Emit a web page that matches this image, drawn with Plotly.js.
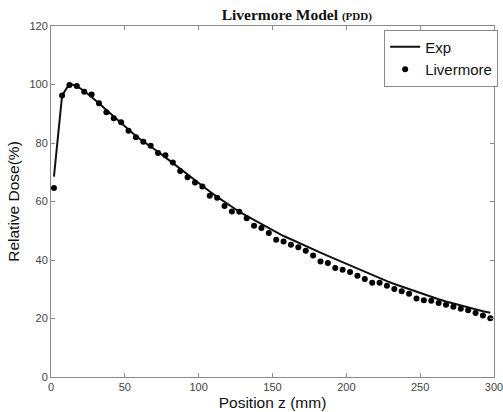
<!DOCTYPE html>
<html>
<head>
<meta charset="utf-8">
<script src="https://cdn.plot.ly/plotly-3.0.1.min.js"></script>
<style>html,body{margin:0;padding:0;background:#fff;}#chart{width:503px;height:412px;}</style>
</head>
<body>
<div id="chart"></div>
<script>
// Exp (measured) curve
const expZ = [2, 7.5, 12.5, 17.5, 22.5, 27.5, 32.5, 37.5, 42.5, 47.5, 52.5, 57.5, 62.5, 67.5, 72.5, 77.5, 82.5, 87.5, 92.5, 97.5, 102.5, 107.5, 112.5, 117.5, 122.5, 127.5, 132.5, 137.5, 142.5, 147.5, 152.5, 157.5, 162.5, 167.5, 172.5, 177.5, 182.5, 187.5, 192.5, 197.5, 202.5, 207.5, 212.5, 217.5, 222.5, 227.5, 232.5, 237.5, 242.5, 247.5, 252.5, 257.5, 262.5, 267.5, 272.5, 277.5, 282.5, 287.5, 292.5, 297.5];
const expDose = [68.5, 96.2, 100.3, 99.4, 97.8, 95.8, 93.6, 91.3, 89.0, 86.8, 84.6, 82.4, 80.5, 78.9, 77.0, 75.1, 73.1, 71.1, 69.1, 67.2, 65.3, 63.4, 61.6, 59.8, 58.0, 56.5, 55.1, 53.7, 52.2, 50.8, 49.4, 48.2, 47.1, 45.9, 44.7, 43.6, 42.5, 41.4, 40.3, 39.2, 38.1, 37.0, 35.9, 34.8, 33.8, 32.8, 31.8, 30.9, 30.0, 29.1, 28.2, 27.4, 26.6, 25.8, 25.1, 24.4, 23.7, 23.1, 22.5, 22.0];
// Livermore model points
const livZ = [2, 7.5, 12.5, 17.5, 22.5, 27.5, 32.5, 37.5, 42.5, 47.5, 52.5, 57.5, 62.5, 67.5, 72.5, 77.5, 82.5, 87.5, 92.5, 97.5, 102.5, 107.5, 112.5, 117.5, 122.5, 127.5, 132.5, 137.5, 142.5, 147.5, 152.5, 157.5, 162.5, 167.5, 172.5, 177.5, 182.5, 187.5, 192.5, 197.5, 202.5, 207.5, 212.5, 217.5, 222.5, 227.5, 232.5, 237.5, 242.5, 247.5, 252.5, 257.5, 262.5, 267.5, 272.5, 277.5, 282.5, 287.5, 292.5, 297.5];
const livDose = [64.6, 96.2, 99.8, 99.5, 97.5, 96.6, 93.6, 90.5, 88.5, 87.1, 84.2, 82.0, 80.4, 79.1, 76.6, 75.8, 73.3, 70.4, 68.3, 66.5, 65.1, 62.0, 61.3, 58.5, 56.6, 56.5, 54.3, 51.7, 50.9, 49.2, 46.9, 46.3, 45.2, 44.4, 43.2, 41.5, 39.5, 39.0, 37.3, 36.7, 35.9, 34.6, 33.5, 32.2, 32.2, 31.2, 30.1, 29.3, 28.5, 26.8, 26.2, 26.1, 25.3, 24.7, 24.0, 23.3, 22.8, 21.9, 21.0, 20.1];
const xTicks = [0, 50, 100, 150, 200, 250, 300];
const yTicks = [0, 20, 40, 60, 80, 100, 120];

const axisCommon = {
  showgrid: false, zeroline: false, showline: true, linecolor: '#8a8a8a', linewidth: 1,
  mirror: 'ticks', ticks: 'inside', ticklen: 4, tickcolor: '#8a8a8a', tickwidth: 1,
  tickfont: {family: 'Liberation Sans, Arial, sans-serif', size: 11, color: '#444'},
  tickmode: 'array', ticklabeloverflow: 'allow'
};

const data = [
  {x: expZ, y: expDose, name: 'Exp', mode: 'lines', type: 'scatter',
   line: {color: '#111', width: 2}},
  {x: livZ, y: livDose, name: 'Livermore', mode: 'markers', type: 'scatter',
   marker: {color: '#000', size: 6, symbol: 'circle'}}
];

const layout = {
  width: 503, height: 412,
  margin: {l: 51, r: 5, t: 26, b: 34.5, pad: 0},
  paper_bgcolor: '#fff', plot_bgcolor: '#fff',
  showlegend: true,
  title: {
    text: '<b>Livermore Model <span style="font-size:11px">(PDD)</span></b>',
    font: {family: 'Liberation Serif, Times New Roman, serif', size: 15.5, color: '#111'},
    x: 0.59, xanchor: 'center', xref: 'container',
    y: 0.964, yanchor: 'middle', yref: 'container'
  },
  xaxis: Object.assign({}, axisCommon, {
    range: [0, 300], tickvals: xTicks, ticktext: xTicks.map(String), ticklabelstandoff: 0,
    title: {text: 'Position z (mm)', font: {family: 'Liberation Sans, Arial, sans-serif', size: 15.5, color: '#111'}, standoff: 4}
  }),
  yaxis: Object.assign({}, axisCommon, {
    range: [0, 120], tickvals: yTicks, ticktext: yTicks.map(String),
    title: {text: 'Relative Dose(%)', font: {family: 'Liberation Sans, Arial, sans-serif', size: 15.5, color: '#111'}, standoff: 6}
  }),
  legend: {
    x: 0.752, y: 0.99, xanchor: 'left', yanchor: 'top',
    bgcolor: '#fff', bordercolor: '#8a8a8a', borderwidth: 1,
    font: {family: 'Liberation Sans, Arial, sans-serif', size: 15, color: '#111'},
    tracegroupgap: 0, itemwidth: 30
  }
};

Plotly.newPlot('chart', data, layout, {displayModeBar: false, staticPlot: true});
</script>
</body>
</html>
